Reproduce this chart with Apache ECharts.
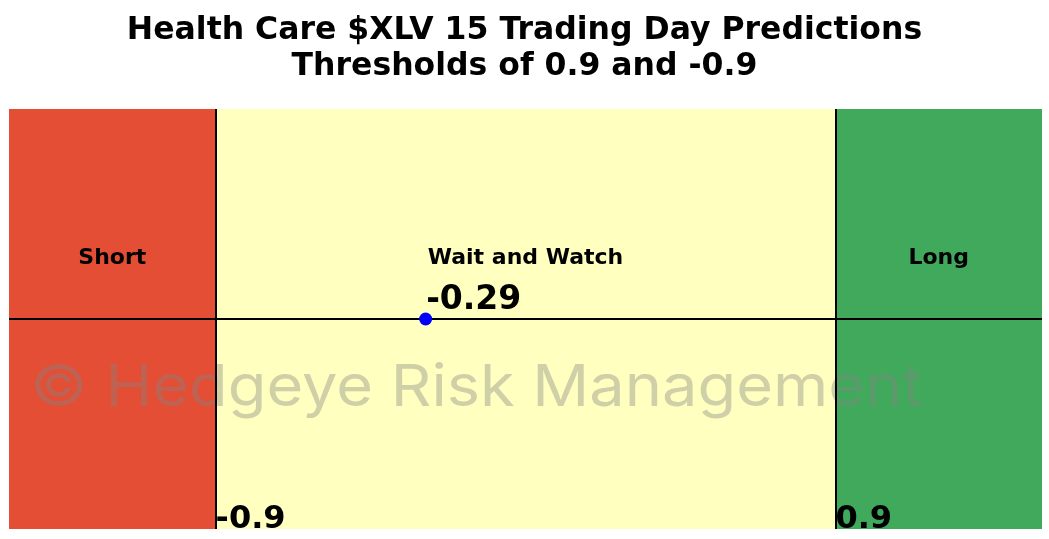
<!DOCTYPE html>
<html>
<head>
<meta charset="utf-8">
<script src="https://cdn.jsdelivr.net/npm/echarts@6/dist/echarts.min.js"></script>
<style>html,body{margin:0;padding:0;background:#fff;}#c{width:1049px;height:539px;}</style>
</head>
<body>
<div id="c"></div>
<script>
var titleLines = ['Health Care $XLV 15 Trading Day Predictions', 'Thresholds of 0.9 and -0.9'];
var zoneNames = ['Short', 'Wait and Watch', 'Long'];
var zoneBounds = [-1.5, -0.9, 0.9, 1.5];
var zoneColors = ['#e34e35', '#ffffbf', '#41a95c'];
var thresholds = [-0.9, 0.9];
var thresholdLabels = ['-0.9', '0.9'];
var prediction = -0.29;
var predictionLabel = '-0.29';
var watermark = '\u00a9 Hedgeye Risk Management';

var FONT = 'DejaVu Sans';
var chart = echarts.init(document.getElementById('c'), null, {renderer: 'canvas'});

var areaData = zoneNames.map(function (n, i) {
  return [{xAxis: zoneBounds[i], yAxis: -1, name: n, itemStyle: {color: zoneColors[i], opacity: 1}},
          {xAxis: zoneBounds[i + 1], yAxis: 1}];
});

var lineData = thresholds.map(function (t) { return {xAxis: t}; });
lineData.push({yAxis: 0});

var option = {
  animation: false,
  title: {
    text: titleLines.join('\n'),
    left: 'center',
    top: 8,
    textStyle: {fontFamily: FONT, fontWeight: 'bold', fontSize: 31.5, color: '#000', lineHeight: 36}
  },
  grid: {left: 9, right: 7, top: 109, bottom: 10},
  xAxis: {type: 'value', min: -1.5, max: 1.5, show: false},
  yAxis: {type: 'value', min: -1, max: 1, show: false},
  graphic: [{
    type: 'text',
    x: 30,
    y: 360,
    scaleX: 1.088,
    z: 3,
    style: {text: watermark, fontFamily: 'Inter', fontSize: 58, fill: 'rgba(132,132,132,0.39)'}
  }],
  series: [
    {
      type: 'scatter',
      z: 1,
      data: [],
      markArea: {
        silent: true,
        label: {show: true, position: 'inside', fontFamily: FONT, fontWeight: 'bold', fontSize: 22, color: '#000', offset: [0, -61]},
        data: areaData
      }
    },
    {
      type: 'line',
      z: 5,
      data: [],
      markLine: {
        silent: true,
        symbol: 'none',
        label: {show: false},
        lineStyle: {color: '#000', width: 2, type: 'solid'},
        data: lineData
      }
    },
    {
      type: 'scatter',
      z: 6,
      symbolSize: 0,
      itemStyle: {opacity: 1},
      data: thresholds.map(function (t, i) { return {value: [t, -1], label: {formatter: thresholdLabels[i]}}; }),
      label: {show: true, opacity: 1, position: [0, 0], align: 'left', verticalAlign: 'bottom', offset: [0, 7], fontFamily: FONT, fontWeight: 'bold', fontSize: 32, color: '#000'}
    },
    {
      type: 'scatter',
      z: 7,
      symbol: 'circle',
      symbolSize: 13,
      itemStyle: {color: '#0000ff', opacity: 1},
      data: [[prediction, 0]],
      label: {show: true, opacity: 1, formatter: predictionLabel, position: [7, 4], align: 'left', verticalAlign: 'bottom', fontFamily: FONT, fontWeight: 'bold', fontSize: 33, color: '#000'}
    }
  ]
};
chart.setOption(option);
</script>
</body>
</html>
